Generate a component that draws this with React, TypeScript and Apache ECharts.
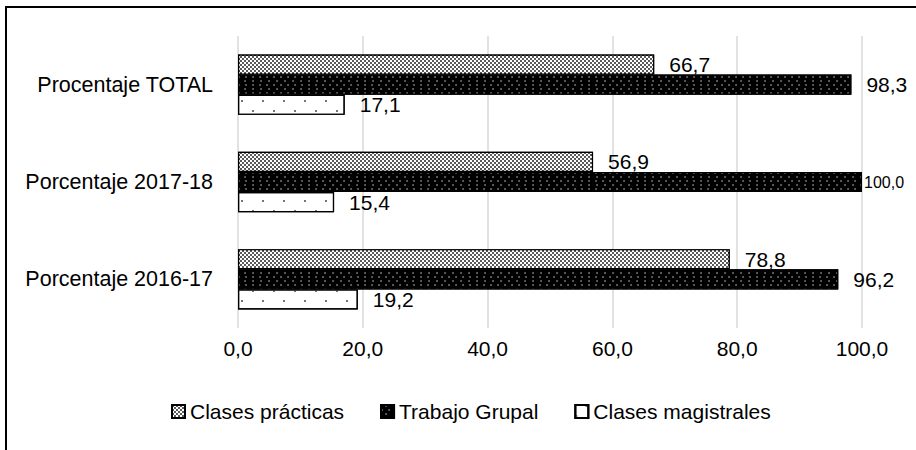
import React, { useEffect, useRef } from "react";
import * as echarts from "echarts";

const categories = ["Procentaje TOTAL", "Porcentaje 2017-18", "Porcentaje 2016-17"];
const seriesNames = ["Clases prácticas", "Trabajo Grupal", "Clases magistrales"];
const practicas = [66.7, 56.9, 78.8];
const grupal = [98.3, 100.0, 96.2];
const magistrales = [17.1, 15.4, 19.2];
const xTicks = { min: 0, max: 100, interval: 20 };

const FONT = "Liberation Sans";

const fmt = (v: number) => v.toFixed(1).replace(".", ",");

export default function App() {
  const ref = useRef<HTMLDivElement>(null);
  useEffect(() => {
    if (!ref.current) return;
    const chart = echarts.init(ref.current, undefined, { renderer: "svg" });
    const label = {
      show: true,
      position: "right" as const,
      distance: 15,
      color: "#000",
      fontSize: 21,
      fontFamily: FONT,
      formatter: (p: any) => fmt(p.value),
    };
    const decals = [
      {
        symbol: "rect",
        color: "#ffffff",
        symbolSize: 1,
        dashArrayX: [[1.5, 1.5], [0, 1.5, 1.5, 0]],
        dashArrayY: [1.5, 0],
        rotation: 0,
      },
      {
        symbol: "circle",
        color: "#ffffff",
        symbolSize: 0.6,
        dashArrayX: [[2, 5], [0, 3.5, 2, 1.5]],
        dashArrayY: [2, 2],
        rotation: 0,
      },
      {
        symbol: "rect",
        color: "#666666",
        symbolSize: 0.9,
        dashArrayX: [[2, 19], [0, 10, 2, 9]],
        dashArrayY: [2, 8],
        rotation: 0,
      },
    ];
    const colors = ["#5a5a5a", "#000000", "#ffffff"];
    const datas = [practicas, grupal, magistrales];
    chart.setOption({
      animation: false,
      textStyle: { fontFamily: FONT },
      grid: { left: 238, right: 54, top: 36, bottom: 122 },
      legend: {
        data: seriesNames,
        icon: "rect",
        top: 396,
        left: 166,
        itemWidth: 13,
        itemHeight: 13,
        itemGap: 36,
        textStyle: { fontSize: 21, color: "#000", fontFamily: FONT },
      },
      xAxis: {
        type: "value",
        min: xTicks.min,
        max: xTicks.max,
        interval: xTicks.interval,
        axisLine: { show: false },
        axisTick: { show: false },
        splitLine: { lineStyle: { color: "#d9d9d9", width: 1.5 } },
        axisLabel: {
          color: "#000",
          fontSize: 21,
          margin: 10,
          formatter: (v: number) => fmt(v),
        },
      },
      yAxis: {
        type: "category",
        inverse: true,
        data: categories,
        axisLine: { show: false },
        axisTick: { show: false },
        axisLabel: { color: "#000", fontSize: 21.5, margin: 25 },
      },
      series: seriesNames.map((name, i) => ({
        name,
        type: "bar",
        barGap: "0%",
        barCategoryGap: "38%",
        itemStyle: {
          color: colors[i],
          borderColor: "#000",
          borderWidth: 1.2,
          decal: decals[i],
        },
        label,
        data: datas[i].map((v) =>
          v >= 99.95
            ? { value: v, label: { fontSize: 16, distance: 2 } }
            : v
        ),
      })),
      graphic: [
        {
          type: "rect",
          shape: { x: 6, y: 7, width: 1000, height: 1000 },
          style: { fill: "none", stroke: "#000", lineWidth: 2 },
          silent: true,
        },
      ],
    });
    return () => chart.dispose();
  }, []);
  return (
    <div
      ref={ref}
      style={{ position: "fixed", left: 0, top: 0, width: 916, height: 450, background: "#fff" }}
    />
  );
}
